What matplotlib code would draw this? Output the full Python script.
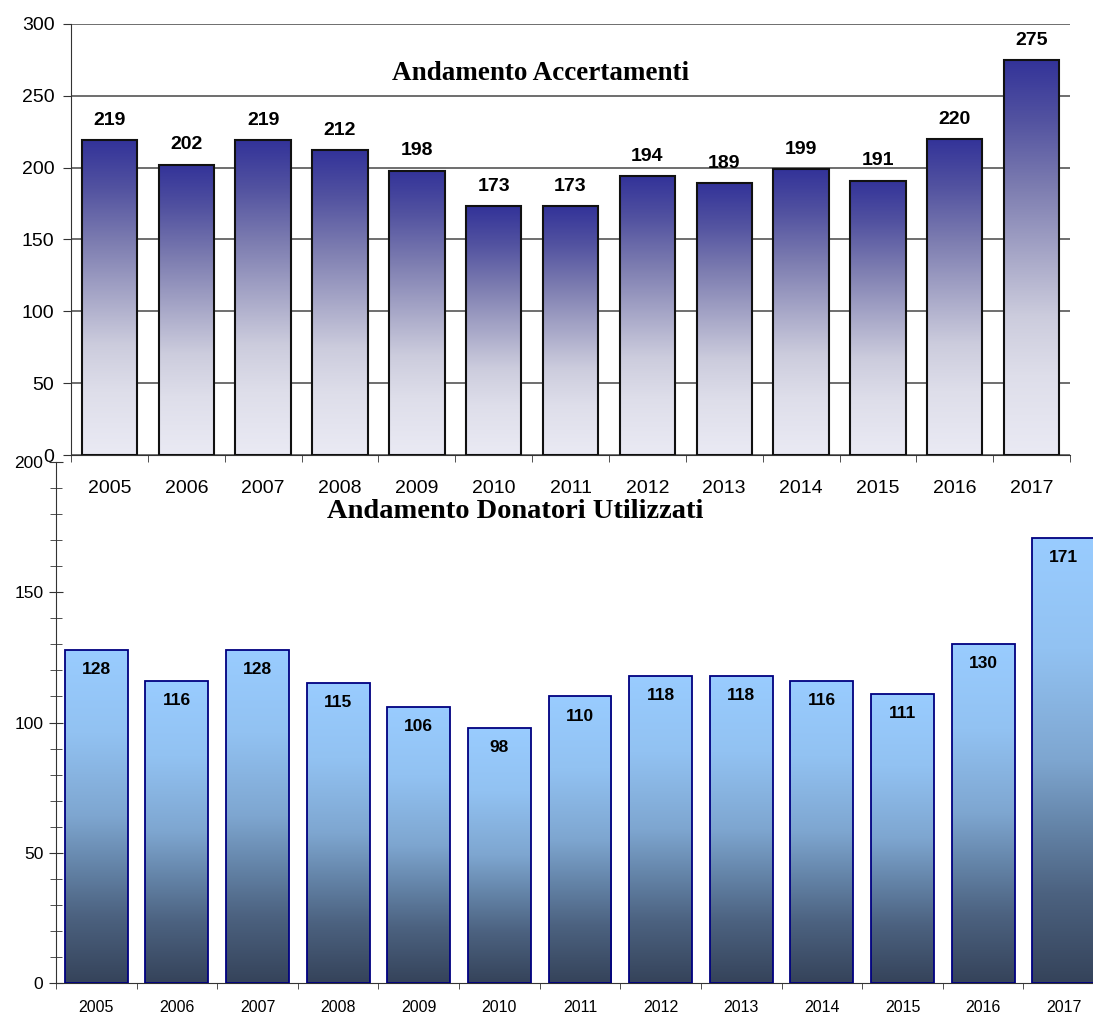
import numpy as np
import matplotlib
matplotlib.use("Agg")
import matplotlib.pyplot as plt
from matplotlib.colors import LinearSegmentedColormap

years = ["2005", "2006", "2007", "2008", "2009", "2010", "2011",
         "2012", "2013", "2014", "2015", "2016", "2017"]
accertamenti = [219, 202, 219, 212, 198, 173, 173, 194, 189, 199, 191, 220, 275]
donatori = [128, 116, 128, 115, 106, 98, 110, 118, 118, 116, 111, 130, 171]

plt.rcParams['font.family'] = ['Liberation Sans', 'DejaVu Sans']

# colormaps: value 0 = bottom of bar, 1 = top of bar
cmap_top = LinearSegmentedColormap.from_list(
    "acc", [(0.0, "#EAEAF4"), (0.2, "#DEDEEA"), (0.35, "#CCCCDD"),
            (0.5, "#A8A8C8"), (0.68, "#7C7CB0"), (0.85, "#5252A0"),
            (1.0, "#333399")])
cmap_bot = LinearSegmentedColormap.from_list(
    "don", [(0.0, "#35435A"), (0.2, "#4C6280"), (0.35, "#6484A8"),
            (0.5, "#7EA6D0"), (0.75, "#92C2F2"), (1.0, "#99CCFF")])

grad = np.linspace(0, 1, 256).reshape(-1, 1)


def gradient_bars(ax, values, width, cmap, edge, lw):
    x = np.arange(len(values))
    bars = ax.bar(x, values, width=width, facecolor="none", edgecolor=edge,
                  linewidth=lw, zorder=3)
    for b in bars:
        x0, y0 = b.get_x(), b.get_y()
        w, h = b.get_width(), b.get_height()
        im = ax.imshow(grad, extent=[x0, x0 + w, y0, y0 + h], origin="lower",
                       aspect="auto", cmap=cmap, zorder=2)
        im.set_clip_path(b)
    return bars


fig = plt.figure(figsize=(10.93, 10.15), dpi=100)

# ---- top chart
ax1 = fig.add_axes([0.065, 0.5517, 0.914, 0.4247])
ax1.set_zorder(3)
ax1.patch.set_alpha(0)
bars1 = gradient_bars(ax1, accertamenti, 0.72, cmap_top, "#111111", 1.5)
ax1.set_xlim(-0.5, 12.5)
ax1.set_ylim(0, 300)
ax1.set_yticks(range(0, 301, 50))
ax1.yaxis.grid(True, color="#555555", linewidth=1.2, zorder=0)
ax1.set_axisbelow(True)
ax1.set_xticks(range(len(years)))
ax1.set_xticklabels(years, fontsize=14)
ax1.set_xticks(np.arange(-0.5, 13, 1), minor=True)
ax1.tick_params(axis="x", which="major", length=0, pad=18)
ax1.tick_params(axis="x", which="minor", length=5, color="#333333")
ax1.tick_params(axis="y", length=6, labelsize=14, pad=6, color="#333333")
for s in ["top", "right"]:
    ax1.spines[s].set_visible(False)
for s in ["left", "bottom"]:
    ax1.spines[s].set_color("#333333")
for b, v in zip(bars1, accertamenti):
    ax1.annotate(str(v), (b.get_x() + b.get_width() / 2, v), xytext=(0, 11),
                 textcoords="offset points", ha="center", va="baseline",
                 fontsize=14, fontweight="bold", zorder=5)
ax1.text(0.4695, 0.884, "Andamento Accertamenti", transform=ax1.transAxes,
         ha="center", va="center", fontsize=19.5, fontweight="bold",
         family=["Liberation Serif", "DejaVu Serif"])

# ---- bottom chart
ax2 = fig.add_axes([0.0512, 0.0315, 0.9589, 0.5133])
ax2.patch.set_alpha(0)
bars2 = gradient_bars(ax2, donatori, 0.78, cmap_bot, "#000080", 1.3)
ax2.set_xlim(-0.5, 12.5)
ax2.set_ylim(0, 200)
ax2.set_yticks(range(0, 201, 50))
ax2.set_yticks(range(0, 201, 10), minor=True)
ax2.set_xticks(range(len(years)))
ax2.set_xticklabels(years, fontsize=11.5)
ax2.set_xticks(np.arange(-0.5, 13, 1), minor=True)
ax2.tick_params(axis="x", which="major", length=0, pad=12)
ax2.tick_params(axis="x", which="minor", length=4, color="#333333")
ax2.tick_params(axis="y", which="major", direction="inout", length=10,
                labelsize=12.5, pad=4, color="#333333")
ax2.tick_params(axis="y", which="minor", direction="inout", length=8, color="#333333")
for s in ["top", "right"]:
    ax2.spines[s].set_visible(False)
for s in ["left", "bottom"]:
    ax2.spines[s].set_color("#333333")
for b, v in zip(bars2, donatori):
    ax2.annotate(str(v), (b.get_x() + b.get_width() / 2, v), xytext=(0, -17.3),
                 textcoords="offset points", ha="center", va="baseline",
                 fontsize=12.5, fontweight="bold", zorder=5)
ax2.text(0.438, 0.906, "Andamento Donatori Utilizzati", transform=ax2.transAxes,
         ha="center", va="center", fontsize=20.5, fontweight="bold",
         family=["Liberation Serif", "DejaVu Serif"])

fig.savefig("out.png", dpi=100)
